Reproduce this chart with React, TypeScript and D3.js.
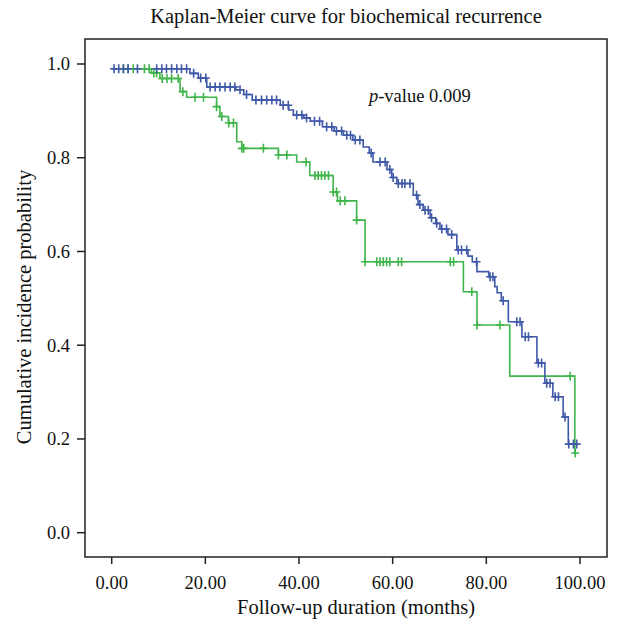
import React from "react";
import * as d3 from "d3";

// Kaplan-Meier steps: [time in months, value after the step]
const blueSteps: [number, number][] = [
  [0, 0.99], [16.7, 0.98], [18.5, 0.97], [20.3, 0.951], [26.5, 0.945], [28.2, 0.935],
  [30.0, 0.923], [36.0, 0.912], [37.8, 0.902], [38.8, 0.891], [41.0, 0.885], [42.4, 0.878],
  [45.0, 0.866], [47.5, 0.857], [49.5, 0.848], [51.5, 0.838], [53.7, 0.823], [55.0, 0.81],
  [55.8, 0.791], [58.8, 0.775], [59.8, 0.758], [60.9, 0.745], [64.4, 0.72], [65.4, 0.7],
  [66.5, 0.688], [68.0, 0.672], [69.2, 0.66], [70.1, 0.648], [71.8, 0.636], [73.7, 0.603],
  [76.1, 0.59], [77.0, 0.578], [78.0, 0.557], [80.5, 0.546], [81.8, 0.525], [82.3, 0.512],
  [83.2, 0.495], [84.7, 0.45], [87.6, 0.418], [90.8, 0.362], [92.5, 0.319], [94.2, 0.29],
  [96.4, 0.247], [97.5, 0.189], [99.4, 0.189],
];

const greenSteps: [number, number][] = [
  [0, 0.99], [8.5, 0.981], [10.3, 0.969], [14.6, 0.941], [16.0, 0.929], [22.4, 0.909],
  [23.1, 0.888], [24.9, 0.874], [26.7, 0.834], [27.8, 0.82], [35.6, 0.806], [39.5, 0.791],
  [42.3, 0.762], [47.3, 0.727], [48.2, 0.708], [52.3, 0.667], [54.1, 0.578], [75.1, 0.514],
  [78.0, 0.443], [85.0, 0.334], [98.9, 0.17], [99.0, 0.17],
];

// censored times
const blueCensored = [
  0.5, 1.5, 2.5, 3.5, 5.5, 9.6, 10.7, 11.7, 12.8, 13.9, 14.9, 16.0, 17.5, 19.0, 20.1, 21.0,
  22.1, 23.1, 24.2, 25.3, 26.3, 27.4, 28.8, 30.8, 32.0, 33.1, 34.2, 35.2, 36.6, 37.7, 39.5,
  40.6, 41.6, 43.3, 44.4, 45.9, 47.0, 48.0, 49.1, 50.2, 51.0, 52.0, 53.0, 55.4, 57.3, 58.4,
  59.4, 60.1, 61.2, 62.0, 62.6, 63.7, 65.1, 65.8, 66.9, 67.6, 68.3, 69.4, 70.5, 71.5, 72.6,
  74.0, 74.7, 75.8, 77.9, 80.8, 81.4, 83.6, 86.5, 87.2, 88.3, 89.0, 91.1, 91.8, 92.9, 93.6,
  94.7, 95.4, 96.8, 97.6, 98.6, 99.3,
];

const greenCensored = [
  2.5, 3.5, 4.6, 7.0, 8.0, 9.0, 9.6, 10.8, 11.8, 12.8, 14.2, 15.2, 17.8, 19.6, 22.4, 23.5,
  25.0, 26.0, 27.8, 28.2, 32.4, 35.6, 37.4, 41.5, 43.4, 44.1, 44.8, 45.5, 46.3, 47.3, 48.0,
  48.8, 49.8, 52.3, 54.1, 56.6, 57.3, 58.0, 58.7, 59.4, 61.2, 61.9, 72.3, 73.0, 76.9, 78.0,
  82.9, 97.9, 99.0,
];

const xTicks = [0, 20, 40, 60, 80, 100];
const yTicks = [0, 0.2, 0.4, 0.6, 0.8, 1.0];

const BLUE = "#3f58a8";
const GREEN = "#40b54b";
const FONT = "'Liberation Serif', 'DejaVu Serif', serif";

function valueAt(steps: [number, number][], t: number) {
  let v = steps[0][1];
  for (const [st, sv] of steps) {
    if (st <= t) v = sv;
  }
  return v;
}

export default function App() {
  const width = 618;
  const height = 625;
  const frame = { left: 85, right: 607, top: 39, bottom: 557 };

  const x = d3.scaleLinear().domain([0, 100]).range([111.7, 580]);
  const y = d3.scaleLinear().domain([0, 1]).range([532.7, 64]);

  const line = d3
    .line<[number, number]>()
    .x((d) => x(d[0]))
    .y((d) => y(d[1]))
    .curve(d3.curveStepAfter);

  const cross = (t: number, steps: [number, number][], color: string, key: string) => {
    const cx = x(t);
    const cy = y(valueAt(steps, t));
    return (
      <path
        key={key}
        d={`M${cx - 4},${cy}H${cx + 4}M${cx},${cy - 4.5}V${cy + 4.5}`}
        stroke={color}
        strokeWidth={1.6}
        fill="none"
      />
    );
  };

  return (
    <svg
      width={width}
      height={height}
      style={{ position: "absolute", left: 0, top: 0, background: "#fff" }}
      fontFamily={FONT}
    >
      {/* title */}
      <text x={(frame.left + frame.right) / 2} y={23} textAnchor="middle" fontSize={20.5} fill="#111">
        Kaplan-Meier curve for biochemical recurrence
      </text>

      {/* frame */}
      <rect
        x={frame.left}
        y={frame.top}
        width={frame.right - frame.left}
        height={frame.bottom - frame.top}
        fill="none"
        stroke="#222"
        strokeWidth={1.5}
      />

      {/* y axis */}
      {yTicks.map((v) => (
        <g key={"y" + v}>
          <line x1={frame.left - 8} x2={frame.left} y1={y(v)} y2={y(v)} stroke="#222" strokeWidth={1.5} />
          <text x={70} y={y(v)} dy="0.35em" textAnchor="end" fontSize={18.5} fill="#111">
            {d3.format(".1f")(v)}
          </text>
        </g>
      ))}

      {/* x axis */}
      {xTicks.map((v) => (
        <g key={"x" + v}>
          <line x1={x(v)} x2={x(v)} y1={frame.bottom} y2={frame.bottom + 7} stroke="#222" strokeWidth={1.5} />
          <text x={x(v)} y={589} textAnchor="middle" fontSize={18.5} fill="#111">
            {d3.format(".2f")(v)}
          </text>
        </g>
      ))}

      {/* axis titles */}
      <text x={356} y={614} textAnchor="middle" fontSize={20.5} fill="#111">
        Follow-up duration (months)
      </text>
      <text
        transform={`translate(31,307) rotate(-90)`}
        textAnchor="middle"
        fontSize={20.5}
        fill="#111"
      >
        Cumulative incidence probability
      </text>

      {/* curves */}
      <path d={line(greenSteps) || ""} fill="none" stroke={GREEN} strokeWidth={1.6} />
      <path d={line(blueSteps) || ""} fill="none" stroke={BLUE} strokeWidth={1.6} />
      {greenCensored.map((t, i) => cross(t, greenSteps, GREEN, "g" + i))}
      {blueCensored.map((t, i) => cross(t, blueSteps, BLUE, "b" + i))}

      {/* p-value */}
      <text x={470.7} y={101.7} textAnchor="end" fontSize={18.5} fill="#111">
        <tspan fontStyle="italic">p</tspan>-value 0.009
      </text>
    </svg>
  );
}
